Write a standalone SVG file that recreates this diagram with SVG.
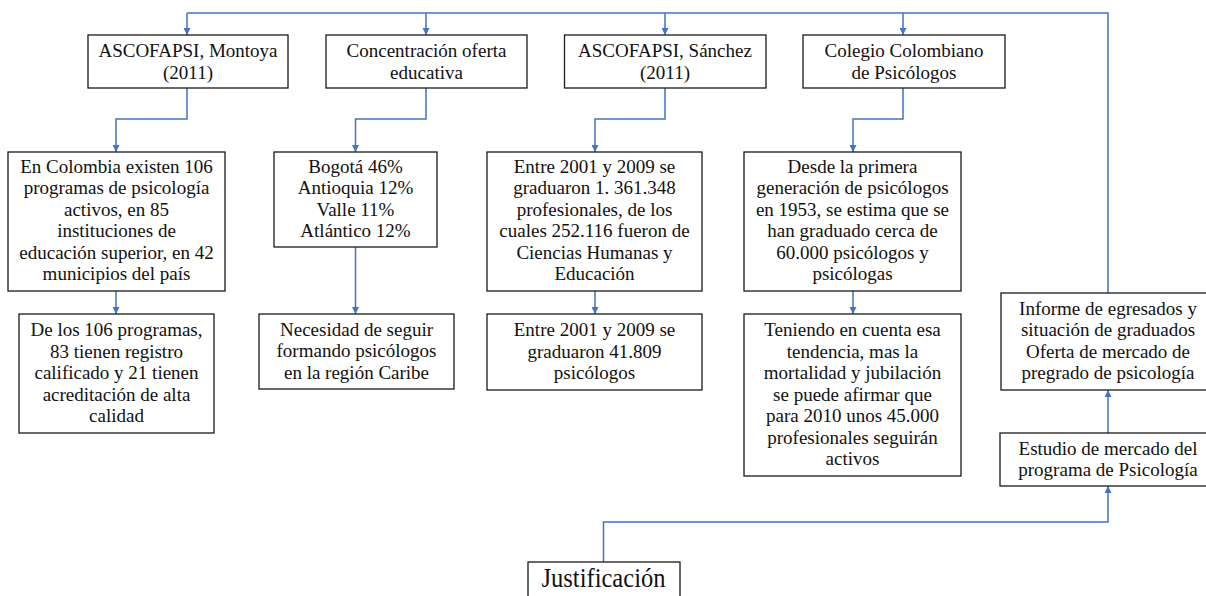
<svg xmlns="http://www.w3.org/2000/svg" width="1206" height="596" viewBox="0 0 1206 596">
<defs>
<style>
.box{fill:#fff;stroke:#1a1a1a;stroke-width:1.3}
.t{font-family:"Liberation Serif","Times New Roman",serif;font-size:19px;fill:#111;text-anchor:middle}
.c{fill:none;stroke:#4472C4;stroke-width:1.5}
</style>
<marker id="ah" viewBox="0 0 10 10" refX="10" refY="5" markerWidth="7" markerHeight="7" markerUnits="userSpaceOnUse" orient="auto">
<path d="M0,0 L10,5 L0,10 z" fill="#4472C4"/>
</marker>
</defs>
<rect width="1206" height="596" fill="#fff"/>
<g id="connectors">
<path class="c" d="M187,13 H1108 V293"/>
<path class="c" d="M187,13 V35" marker-end="url(#ah)"/>
<path class="c" d="M426,13 V35" marker-end="url(#ah)"/>
<path class="c" d="M665,13 V35" marker-end="url(#ah)"/>
<path class="c" d="M903,13 V35" marker-end="url(#ah)"/>
<path class="c" d="M187,88 V119 H116 V152" marker-end="url(#ah)"/>
<path class="c" d="M426,88 V119 H355.5 V152" marker-end="url(#ah)"/>
<path class="c" d="M665,88 V119 H595 V152" marker-end="url(#ah)"/>
<path class="c" d="M903,88 V119 H853 V152" marker-end="url(#ah)"/>
<path class="c" d="M116,291 V314" marker-end="url(#ah)"/>
<path class="c" d="M355.5,247 V314" marker-end="url(#ah)"/>
<path class="c" d="M595,291 V314" marker-end="url(#ah)"/>
<path class="c" d="M853,291 V314" marker-end="url(#ah)"/>
<path class="c" d="M1108,433 V390" marker-end="url(#ah)"/>
<path class="c" d="M603.5,562 V522 H1108 V486" marker-end="url(#ah)"/>
</g>
<g id="n1">
<rect class="box" x="88" y="35" width="200" height="53"/>
<text class="t" x="188" y="57">ASCOFAPSI, Montoya</text>
<text class="t" x="188" y="78.5">(2011)</text>
</g>
<g id="n2">
<rect class="box" x="326" y="35" width="201" height="53"/>
<text class="t" x="426.5" y="57">Concentración oferta</text>
<text class="t" x="426.5" y="78.5">educativa</text>
</g>
<g id="n3">
<rect class="box" x="564.5" y="35" width="201.5" height="53"/>
<text class="t" x="665" y="57">ASCOFAPSI, Sánchez</text>
<text class="t" x="665" y="78.5">(2011)</text>
</g>
<g id="n4">
<rect class="box" x="803" y="35" width="202" height="53"/>
<text class="t" x="904" y="57">Colegio Colombiano</text>
<text class="t" x="904" y="78.5">de Psicólogos</text>
</g>
<g id="n1b">
<rect class="box" x="8" y="152" width="217" height="139"/>
<text class="t" x="116.5" y="172.75">En Colombia existen 106</text>
<text class="t" x="116.5" y="194.25">programas de psicología</text>
<text class="t" x="116.5" y="215.75">activos, en 85</text>
<text class="t" x="116.5" y="237.25">instituciones de</text>
<text class="t" x="116.5" y="258.75">educación superior, en 42</text>
<text class="t" x="116.5" y="280.25">municipios del país</text>
</g>
<g id="n2b">
<rect class="box" x="274" y="152" width="163" height="95"/>
<text class="t" x="355.5" y="172.75">Bogotá 46%</text>
<text class="t" x="355.5" y="194.25">Antioquia 12%</text>
<text class="t" x="355.5" y="215.75">Valle 11%</text>
<text class="t" x="355.5" y="237.25">Atlántico 12%</text>
</g>
<g id="n3b">
<rect class="box" x="487" y="152" width="215" height="139"/>
<text class="t" x="594.5" y="172.75">Entre 2001 y 2009 se</text>
<text class="t" x="594.5" y="194.25">graduaron 1. 361.348</text>
<text class="t" x="594.5" y="215.75">profesionales, de los</text>
<text class="t" x="594.5" y="237.25">cuales 252.116 fueron de</text>
<text class="t" x="594.5" y="258.75">Ciencias Humanas y</text>
<text class="t" x="594.5" y="280.25">Educación</text>
</g>
<g id="n4b">
<rect class="box" x="744" y="152" width="217" height="139"/>
<text class="t" x="852.5" y="172.75">Desde la primera</text>
<text class="t" x="852.5" y="194.25">generación de psicólogos</text>
<text class="t" x="852.5" y="215.75">en 1953, se estima que se</text>
<text class="t" x="852.5" y="237.25">han graduado cerca de</text>
<text class="t" x="852.5" y="258.75">60.000 psicólogos y</text>
<text class="t" x="852.5" y="280.25">psicólogas</text>
</g>
<g id="n1c">
<rect class="box" x="19" y="314" width="195" height="119"/>
<text class="t" x="116.5" y="336">De los 106 programas,</text>
<text class="t" x="116.5" y="357.5">83 tienen registro</text>
<text class="t" x="116.5" y="379">calificado y 21 tienen</text>
<text class="t" x="116.5" y="400.5">acreditación de alta</text>
<text class="t" x="116.5" y="422">calidad</text>
</g>
<g id="n2c">
<rect class="box" x="259" y="314" width="195" height="75"/>
<text class="t" x="356.5" y="335.5">Necesidad de seguir</text>
<text class="t" x="356.5" y="357">formando psicólogos</text>
<text class="t" x="356.5" y="378.5">en la región Caribe</text>
</g>
<g id="n3c">
<rect class="box" x="487" y="314" width="215" height="76"/>
<text class="t" x="594.5" y="336">Entre 2001 y 2009 se</text>
<text class="t" x="594.5" y="357.5">graduaron 41.809</text>
<text class="t" x="594.5" y="379">psicólogos</text>
</g>
<g id="n4c">
<rect class="box" x="744" y="314" width="217" height="162"/>
<text class="t" x="852.5" y="336">Teniendo en cuenta esa</text>
<text class="t" x="852.5" y="357.5">tendencia, mas la</text>
<text class="t" x="852.5" y="379">mortalidad y jubilación</text>
<text class="t" x="852.5" y="400.5">se puede afirmar que</text>
<text class="t" x="852.5" y="422">para 2010 unos 45.000</text>
<text class="t" x="852.5" y="443.5">profesionales seguirán</text>
<text class="t" x="852.5" y="465">activos</text>
</g>
<g id="informe">
<rect class="box" x="1001" y="293" width="214" height="97"/>
<text class="t" x="1108" y="314.75">Informe de egresados y</text>
<text class="t" x="1108" y="336.25">situación de graduados</text>
<text class="t" x="1108" y="357.75">Oferta de mercado de</text>
<text class="t" x="1108" y="379.25">pregrado de psicología</text>
</g>
<g id="estudio">
<rect class="box" x="1000" y="433" width="216" height="53"/>
<text class="t" x="1108" y="454.75">Estudio de mercado del</text>
<text class="t" x="1108" y="476.25">programa de Psicología</text>
</g>
<g id="justificacion">
<rect class="box" x="528" y="562" width="152" height="40"/>
<text class="t" x="603.5" y="587" style="font-size:28px" textLength="124" lengthAdjust="spacingAndGlyphs">Justificación</text>
</g>
</svg>
